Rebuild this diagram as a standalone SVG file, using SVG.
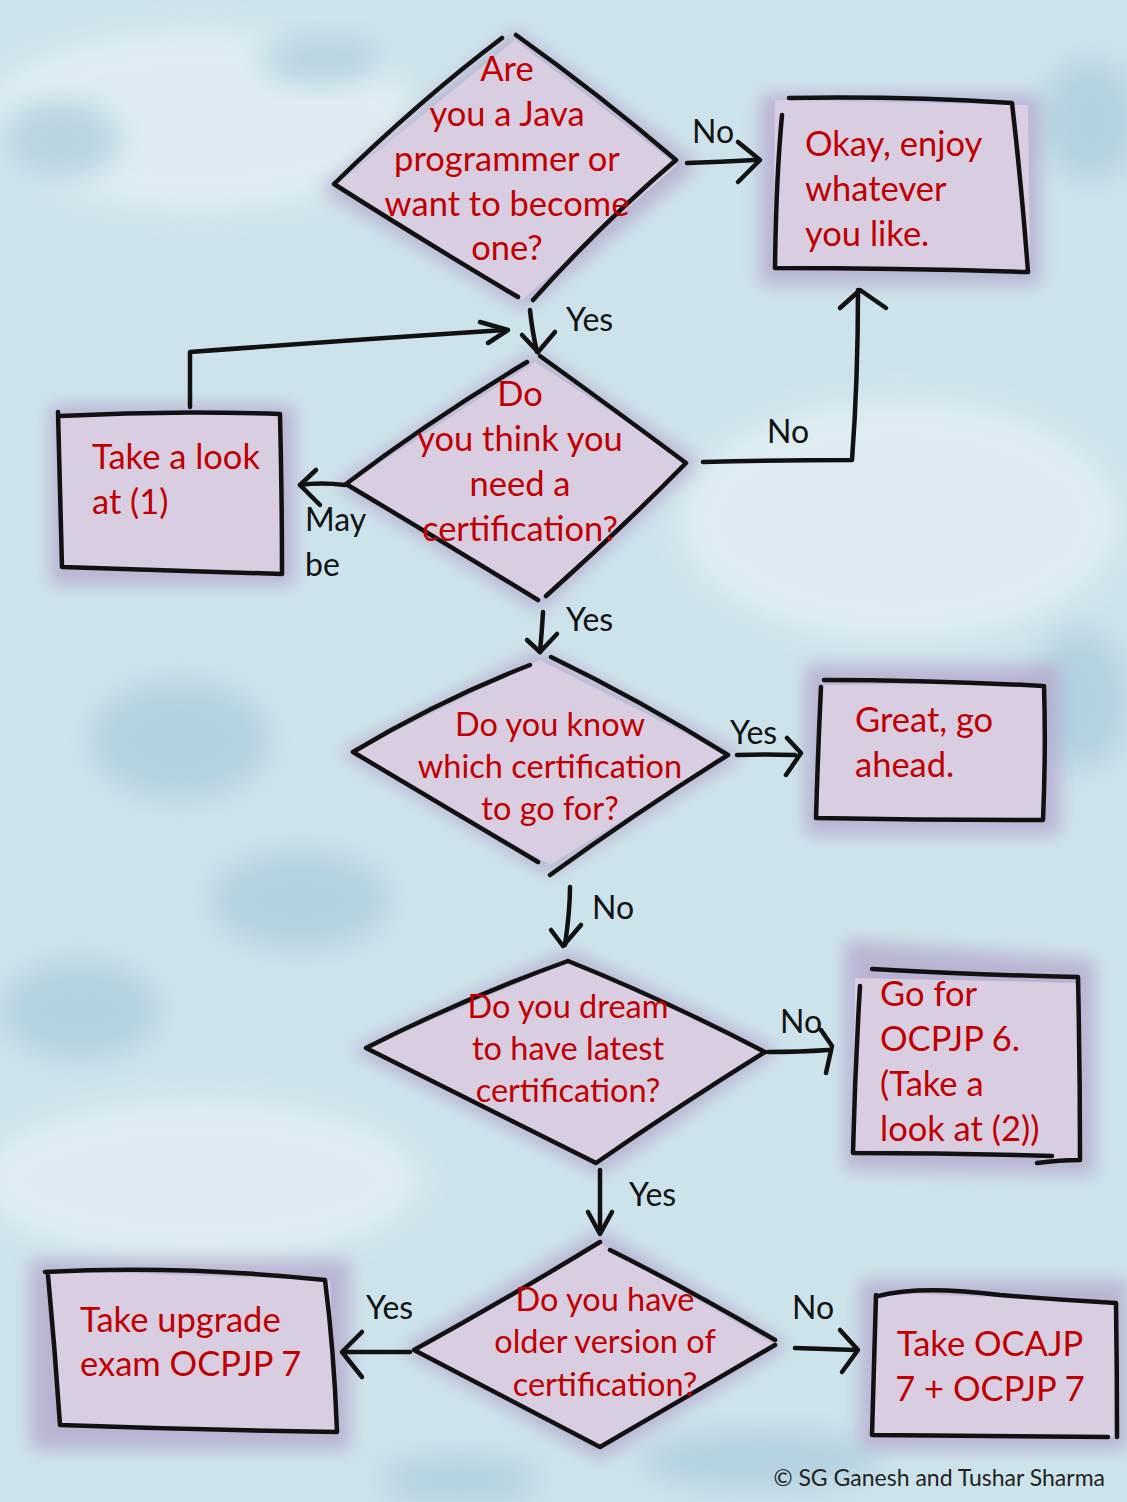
<svg xmlns="http://www.w3.org/2000/svg" width="1127" height="1502" viewBox="0 0 1127 1502">
<defs>
<filter id="blur" x="-30%" y="-30%" width="160%" height="160%"><feGaussianBlur stdDeviation="14"/></filter>
<filter id="halo" x="-20%" y="-20%" width="140%" height="140%"><feGaussianBlur stdDeviation="9"/></filter>
<style>
.bg{fill:#cde3eb}
.blot{fill:#a9cbdc;filter:url(#blur);opacity:0.7}
.lite{fill:#e6f1f4;filter:url(#blur);opacity:0.7}
.halo{fill:#b3a4c9;filter:url(#halo);opacity:0.75}
.fill{fill:#d8cde1}
.ink{fill:none;stroke:#111;stroke-width:4.5;stroke-linecap:round;stroke-linejoin:round}
.t{font-family:Lato,"Open Sans","Liberation Sans",sans-serif;font-size:34.5px;fill:#c00000}
.s{font-size:32.5px}
.tc{text-anchor:middle}
.lbl{font-family:Lato,"Open Sans","Liberation Sans",sans-serif;font-size:32px;fill:#111}
.copy{font-family:Lato,"Open Sans","Liberation Sans",sans-serif;font-size:23px;fill:#222}
</style>
</defs>
<rect class="bg" x="0" y="0" width="1127" height="1502"/>
<g id="background">
<ellipse class="lite" cx="200" cy="120" rx="220" ry="90"/>
<ellipse class="blot" cx="320" cy="60" rx="60" ry="25"/>
<ellipse class="blot" cx="60" cy="140" rx="60" ry="40"/>
<ellipse class="blot" cx="1090" cy="120" rx="50" ry="60"/>
<ellipse class="lite" cx="900" cy="520" rx="220" ry="120"/>
<ellipse class="blot" cx="180" cy="740" rx="90" ry="60"/>
<ellipse class="blot" cx="80" cy="1010" rx="80" ry="50"/>
<ellipse class="blot" cx="300" cy="900" rx="90" ry="50"/>
<ellipse class="lite" cx="200" cy="1180" rx="220" ry="80"/>
<ellipse class="blot" cx="1080" cy="700" rx="50" ry="70"/>
<ellipse class="blot" cx="760" cy="1460" rx="120" ry="30"/>
<ellipse class="blot" cx="460" cy="1480" rx="80" ry="25"/>
</g>

<g id="node-q1">
<path class="halo" d="M515 30 L700 165 L525 310 L320 190 Z"/>
<path class="fill" d="M515 40 L677 165 L522 300 L335 186 Z"/>
<path class="ink" d="M502 38 Q420 100 334 184 Q430 245 518 297"/>
<path class="ink" d="M516 35 Q600 95 676 160 Q600 225 533 300"/>
<text class="t tc" x="507" y="81">Are</text>
<text class="t tc" x="507" y="126">you a Java</text>
<text class="t tc" x="507" y="171">programmer or</text>
<text class="t tc" x="507" y="216">want to become</text>
<text class="t tc" x="507" y="260">one?</text>
</g>

<g id="node-enjoy">
<path class="halo" d="M760 95 L1040 95 L1040 285 L760 285 Z"/>
<path class="fill" d="M775 100 L1028 105 L1030 272 L773 268 Z"/>
<path class="ink" d="M789 98 Q900 96 1012 103 Q1022 190 1028 272 Q900 268 775 268 Q776 180 782 115"/>
<text class="t" x="805" y="156">Okay, enjoy</text>
<text class="t" x="805" y="201">whatever</text>
<text class="t" x="805" y="246">you like.</text>
</g>

<g id="node-q2">
<path class="halo" d="M535 350 L700 462 L540 612 L335 485 Z"/>
<path class="fill" d="M535 362 L688 462 L540 600 L346 485 Z"/>
<path class="ink" d="M527 362 Q430 420 346 484 Q440 540 538 600"/>
<path class="ink" d="M540 356 Q615 410 686 463 Q620 530 546 596"/>
<text class="t tc" x="520" y="406">Do</text>
<text class="t tc" x="520" y="451">you think you</text>
<text class="t tc" x="520" y="496">need a</text>
<text class="t tc" x="520" y="541">certification?</text>
</g>

<g id="node-look1">
<path class="halo" d="M50 405 L295 405 L295 585 L50 585 Z"/>
<path class="fill" d="M60 414 L280 412 L282 572 L62 568 Z"/>
<path class="ink" d="M60 416 Q170 410 280 414 Q282 495 282 574 Q170 570 62 567 Q60 490 58 412"/>
<text class="t" x="92" y="469">Take a look</text>
<text class="t" x="92" y="514">at (1)</text>
</g>

<g id="node-q3">
<path class="halo" d="M540 650 L745 755 L550 875 L340 752 Z"/>
<path class="fill" d="M540 660 L728 755 L550 865 L353 752 Z"/>
<path class="ink" d="M530 665 Q440 700 353 752 Q450 810 538 862"/>
<path class="ink" d="M551 657 Q640 700 728 755 Q640 810 550 875"/>
<text class="t s tc" x="550" y="736">Do you know</text>
<text class="t s tc" x="550" y="778">which certification</text>
<text class="t s tc" x="550" y="820">to go for?</text>
</g>

<g id="node-great">
<path class="halo" d="M805 665 L1060 665 L1060 835 L805 835 Z"/>
<path class="fill" d="M820 685 L1045 683 L1043 820 L816 818 Z"/>
<path class="ink" d="M824 680 Q930 680 1044 686 Q1046 750 1043 820 Q930 820 816 818 Q818 750 821 687"/>
<text class="t" x="855" y="732">Great, go</text>
<text class="t" x="855" y="777">ahead.</text>
</g>

<g id="node-q4">
<path class="halo" d="M568 950 L780 1050 L600 1175 L350 1050 Z"/>
<path class="fill" d="M568 962 L765 1050 L600 1162 L366 1048 Z"/>
<path class="ink" d="M568 961 Q460 1000 366 1048 Q490 1110 596 1163 Q680 1105 765 1052 Q665 1000 568 961"/>
<text class="t s tc" x="568" y="1018">Do you dream</text>
<text class="t s tc" x="568" y="1060">to have latest</text>
<text class="t s tc" x="568" y="1102">certification?</text>
</g>

<g id="node-ocpjp6">
<path class="halo" d="M845 940 L1095 960 L1095 1175 L845 1170 Z"/>
<path class="fill" d="M855 978 L1080 983 L1080 1160 L853 1150 Z"/>
<path class="ink" d="M872 969 Q980 975 1078 977 Q1080 1070 1080 1160 Q1060 1160 1037 1163"/>
<path class="ink" d="M860 986 Q855 1070 853 1153 Q950 1153 1052 1156"/>
<text class="t" x="880" y="1006">Go for</text>
<text class="t" x="880" y="1051">OCPJP 6.</text>
<text class="t" x="880" y="1096">(Take a</text>
<text class="t" x="880" y="1141">look at (2))</text>
</g>

<g id="node-q5">
<path class="halo" d="M600 1230 L790 1345 L600 1460 L400 1350 Z"/>
<path class="fill" d="M600 1243 L775 1345 L600 1447 L414 1350 Z"/>
<path class="ink" d="M600 1242 Q505 1300 414 1350 Q510 1400 600 1447 Q690 1395 775 1345"/>
<path class="ink" d="M610 1250 Q690 1290 775 1340"/>
<text class="t s tc" x="605" y="1311">Do you have</text>
<text class="t s tc" x="605" y="1353">older version of</text>
<text class="t s tc" x="605" y="1396">certification?</text>
</g>

<g id="node-upgrade">
<path class="halo" d="M30 1260 L350 1260 L350 1450 L30 1450 Z"/>
<path class="fill" d="M48 1270 L330 1280 L337 1432 L58 1425 Z"/>
<path class="ink" d="M45 1272 Q180 1265 325 1280 Q334 1350 337 1432 Q200 1430 60 1425 Q55 1350 48 1275"/>
<text class="t" x="80" y="1332">Take upgrade</text>
<text class="t" x="80" y="1376">exam OCPJP 7</text>
</g>

<g id="node-ocajp">
<path class="halo" d="M860 1280 L1127 1280 L1127 1450 L860 1450 Z"/>
<path class="fill" d="M875 1292 L1115 1302 L1117 1437 L872 1435 Z"/>
<path class="ink" d="M878 1296 Q920 1285 1000 1295 Q1060 1300 1116 1303 Q1117 1370 1117 1437"/>
<path class="ink" d="M876 1295 Q874 1365 872 1435 Q990 1436 1108 1437"/>
<text class="t tc" x="990" y="1356">Take OCAJP</text>
<text class="t tc" x="990" y="1401">7 + OCPJP 7</text>
</g>

<g id="connectors">
<path class="ink" d="M687 163 Q720 162 755 160"/>
<path class="ink" d="M738 142 L760 160 L738 182"/>
<path class="ink" d="M530 310 Q532 330 537 352"/>
<path class="ink" d="M522 335 L538 352 L555 332"/>
<path class="ink" d="M190 407 L190 352 Q350 340 505 330"/>
<path class="ink" d="M480 322 L508 330 L488 343"/>
<path class="ink" d="M703 462 Q780 460 852 460 Q858 380 858 290"/>
<path class="ink" d="M840 308 L860 290 L886 308"/>
<path class="ink" d="M345 485 Q320 482 300 485"/>
<path class="ink" d="M316 470 L300 485 L320 505"/>
<path class="ink" d="M543 612 Q542 630 540 652"/>
<path class="ink" d="M527 640 L540 652 L557 634"/>
<path class="ink" d="M737 755 Q765 754 795 755"/>
<path class="ink" d="M787 738 L801 753 L786 775"/>
<path class="ink" d="M570 887 Q570 910 565 945"/>
<path class="ink" d="M551 930 L563 946 L581 925"/>
<path class="ink" d="M768 1052 Q800 1052 828 1050"/>
<path class="ink" d="M821 1030 L832 1046 L826 1073"/>
<path class="ink" d="M600 1170 L600 1232"/>
<path class="ink" d="M588 1212 L600 1234 L612 1212"/>
<path class="ink" d="M410 1352 L344 1352"/>
<path class="ink" d="M362 1332 L342 1352 L362 1377"/>
<path class="ink" d="M795 1348 L856 1350"/>
<path class="ink" d="M840 1330 L858 1350 L842 1372"/>
</g>

<g id="labels">
<text class="lbl" x="692" y="143">No</text>
<text class="lbl" x="566" y="331">Yes</text>
<text class="lbl" x="767" y="443">No</text>
<text class="lbl" x="305" y="531">May</text>
<text class="lbl" x="305" y="576">be</text>
<text class="lbl" x="566" y="631">Yes</text>
<text class="lbl" x="730" y="744">Yes</text>
<text class="lbl" x="592" y="919">No</text>
<text class="lbl" x="780" y="1033">No</text>
<text class="lbl" x="629" y="1206">Yes</text>
<text class="lbl" x="366" y="1319">Yes</text>
<text class="lbl" x="792" y="1319">No</text>
</g>
<text class="copy" x="1105" y="1486" text-anchor="end">© SG Ganesh and Tushar Sharma</text>
</svg>
